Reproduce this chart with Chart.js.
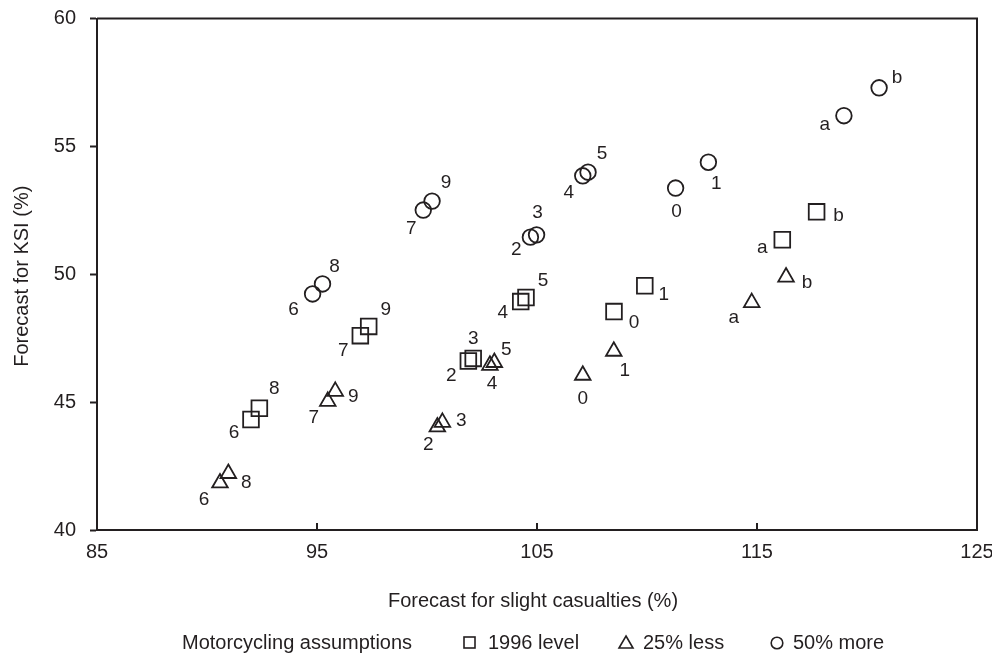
<!DOCTYPE html>
<html>
<head>
<meta charset="utf-8">
<script src="https://cdn.jsdelivr.net/npm/chart.js@4.4.1/dist/chart.umd.min.js"></script>
<style>
  html, body { margin: 0; padding: 0; background: #fff; }
  #wrap { width: 992px; height: 657px; }
</style>
</head>
<body>
<div id="wrap"><canvas id="chart" width="992" height="657"></canvas></div>
<script>
// scenario ids, same order for every series
const pointIds = ['6', '8', '7', '9', '2', '3', '4', '5', '0', '1', 'a', 'b'];

// 1996 level (squares)
const squareX = [92.0, 92.38, 96.97, 97.35, 101.88, 102.1, 104.26, 104.5, 108.5, 109.9, 116.15, 117.71];
const squareY = [44.32, 44.76, 47.60, 47.96, 46.61, 46.71, 48.93, 49.09, 48.54, 49.55, 51.35, 52.44];

// 25% less (triangles)
const triangleX = [90.59, 90.97, 95.49, 95.83, 100.47, 100.7, 102.86, 103.06, 107.08, 108.49, 114.76, 116.32];
const triangleY = [41.84, 42.21, 45.03, 45.42, 44.03, 44.21, 46.44, 46.55, 46.05, 46.99, 48.89, 49.89];

// 50% more (circles)
const circleX = [94.8, 95.25, 99.83, 100.23, 104.7, 104.98, 107.08, 107.32, 111.3, 112.79, 118.95, 120.55];
const circleY = [49.23, 49.62, 52.51, 52.86, 51.45, 51.54, 53.85, 53.99, 53.37, 54.38, 56.2, 57.29];

const seriesNames = ['1996 level', '25% less', '50% more'];
const xTicks = [85, 95, 105, 115, 125];
const yTicks = [40, 45, 50, 55, 60];

// where each id label sits relative to its marker (px)
const squareLabelPos = [[-17, 13], [15, -19], [-17, 15], [17, -17], [-17, 15], [0, -20],
                        [-18, 11], [17, -17], [20, 11], [19, 9], [-20, 8], [22, 4]];
const triangleLabelPos = [[-16, 17], [18, 9], [-14, 16], [18, 5], [-9, 18], [19, -2],
                          [2, 18], [12, -13], [0, 23], [11, 20], [-18, 15], [21, 6]];
const circleLabelPos = [[-19, 16], [12, -17], [-12, 19], [14, -18], [-14, 13], [1, -22],
                        [-14, 17], [14, -18], [1, 24], [8, 22], [-19, 9], [18, -10]];

const INK = '#231f20';
const FONT = '"Liberation Sans", Arial, Helvetica, sans-serif';

const toPoints = (xs, ys) => xs.map((x, i) => ({ x, y: ys[i] }));

const labelPos = [squareLabelPos, triangleLabelPos, circleLabelPos];

// keep label overflow from pushing the plot area around
const noOverflow = s => {
    s.paddingTop = 0;
    s.paddingBottom = 0;
    s.paddingLeft = 0;
    s.paddingRight = 0;
};

const decorPlugin = {
    id: 'decor',
    afterDraw(chart) {
        const { ctx, chartArea: a, scales } = chart;
        ctx.save();
        ctx.strokeStyle = INK;
        ctx.fillStyle = INK;
        ctx.lineWidth = 2;

        // top and right frame
        ctx.beginPath();
        ctx.moveTo(a.left, a.top);
        ctx.lineTo(a.right, a.top);
        ctx.lineTo(a.right, a.bottom);
        ctx.stroke();

        // x ticks point into the plot
        ctx.beginPath();
        xTicks.forEach(v => {
            const px = Math.round(scales.x.getPixelForValue(v));
            ctx.moveTo(px, a.bottom);
            ctx.lineTo(px, a.bottom - 7);
        });
        ctx.stroke();

        // id labels next to each marker
        ctx.font = '19px ' + FONT;
        ctx.textAlign = 'center';
        ctx.textBaseline = 'middle';
        chart.data.datasets.forEach((ds, di) => {
            chart.getDatasetMeta(di).data.forEach((el, j) => {
                const [dx, dy] = labelPos[di][j];
                ctx.fillText(pointIds[j], el.x + dx, el.y + dy);
            });
        });

        // axis titles
        ctx.font = '20px ' + FONT;
        ctx.fillText('Forecast for slight casualties (%)', (a.left + a.right) / 2 - 4, 601);
        ctx.save();
        ctx.translate(22, (a.top + a.bottom) / 2 + 2);
        ctx.rotate(-Math.PI / 2);
        ctx.fillText('Forecast for KSI (%)', 0, 0);
        ctx.restore();

        // legend row
        const ly = 643;
        ctx.textAlign = 'left';
        ctx.fillText('Motorcycling assumptions', 182, ly);
        ctx.lineWidth = 1.6;
        ctx.strokeRect(464, ly - 6, 11, 11);
        ctx.fillText(seriesNames[0], 488, ly);
        ctx.beginPath();
        ctx.moveTo(626, ly - 7);
        ctx.lineTo(633, ly + 5);
        ctx.lineTo(619, ly + 5);
        ctx.closePath();
        ctx.stroke();
        ctx.fillText(seriesNames[1], 643, ly);
        ctx.beginPath();
        ctx.arc(777, ly, 5.8, 0, Math.PI * 2);
        ctx.stroke();
        ctx.fillText(seriesNames[2], 793, ly);

        ctx.restore();
    }
};

const markerBase = {
    showLine: false,
    backgroundColor: 'rgba(0,0,0,0)',
    borderColor: INK,
    pointBorderWidth: 1.8,
    pointHoverRadius: 0
};

new Chart(document.getElementById('chart'), {
    type: 'scatter',
    data: {
        datasets: [
            { ...markerBase, label: seriesNames[0], data: toPoints(squareX, squareY), pointStyle: 'rect', pointRadius: 11.1 },
            { ...markerBase, label: seriesNames[1], data: toPoints(triangleX, triangleY), pointStyle: 'triangle', pointRadius: 9 },
            { ...markerBase, label: seriesNames[2], data: toPoints(circleX, circleY), pointStyle: 'circle', pointRadius: 7.8 }
        ]
    },
    options: {
        responsive: false,
        devicePixelRatio: 1,
        animation: false,
        layout: { padding: { top: 18.5, right: 15, bottom: 0, left: 0 } },
        plugins: { legend: { display: false }, tooltip: { enabled: false } },
        scales: {
            x: {
                type: 'linear',
                min: 85, max: 125,
                afterBuildTicks: s => { s.ticks = xTicks.map(v => ({ value: v })); },
                afterFit: s => { s.height = 127; noOverflow(s); },
                ticks: { color: INK, font: { family: FONT, size: 20 }, padding: 10, maxRotation: 0 },
                grid: { display: true, drawOnChartArea: false, drawTicks: false },
                border: { display: true, color: INK, width: 2 }
            },
            y: {
                type: 'linear',
                min: 40, max: 60,
                afterBuildTicks: s => { s.ticks = yTicks.map(v => ({ value: v })); },
                afterFit: s => { s.width = 97; noOverflow(s); },
                ticks: { color: INK, font: { family: FONT, size: 20 }, padding: 14 },
                grid: { display: true, drawOnChartArea: false, drawTicks: true, tickLength: 7, tickColor: INK, tickWidth: 2 },
                border: { display: true, color: INK, width: 2 }
            }
        }
    },
    plugins: [decorPlugin]
});
</script>
</body>
</html>
